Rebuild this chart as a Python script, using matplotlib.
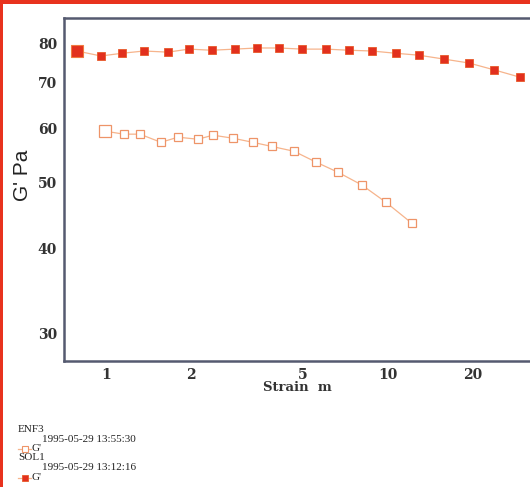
import matplotlib
matplotlib.use("Agg")
import matplotlib.pyplot as plt
from matplotlib.lines import Line2D
from matplotlib.patches import Rectangle
from matplotlib.ticker import FixedLocator, NullLocator

# SOL1 (filled squares)
sol_strain = [0.789, 0.960, 1.139, 1.364, 1.659, 1.969, 2.376, 2.867, 3.432, 4.107,
              4.955, 6.028, 7.272, 8.776, 10.67, 12.88, 15.80, 19.38, 23.76, 29.38]
sol_g = [77.9, 76.6, 77.3, 77.9, 77.6, 78.4, 78.1, 78.4, 78.7, 78.7,
         78.4, 78.4, 78.1, 77.9, 77.3, 76.8, 75.8, 74.8, 73.1, 71.3]

# ENF3 (open squares)
enf_strain = [0.992, 1.158, 1.320, 1.567, 1.800, 2.120, 2.396, 2.821, 3.321, 3.879,
              4.642, 5.556, 6.646, 8.088, 9.838, 12.16]
enf_g = [59.4, 58.8, 58.8, 57.2, 58.2, 57.8, 58.6, 58.0, 57.2, 56.4,
         55.5, 53.5, 51.7, 49.5, 46.7, 43.5]

xticks = [1, 2, 5, 10, 20]
yticks = [30, 40, 50, 60, 70, 80]

legend_rows = [("ENF3", "1995-05-29 13:55:30", "G'"),
               ("SOL1", "1995-05-29 13:12:16", "G'")]

line_col = "#f6b48c"
red = "#e2301e"
open_col = "#ee9468"
spine_col = "#555a70"

W, H = 530, 487
fig = plt.figure(figsize=(W / 100, H / 100), dpi=100)
ax = fig.add_axes([64 / W, 1 - 361 / H, 1 - 64 / W, (361 - 18) / H])

ax.plot(sol_strain, sol_g, color=line_col, lw=0.9, marker="s", ms=6,
        mfc=red, mec="#e85a2a", mew=0.6, zorder=3)
ax.plot(sol_strain[:1], sol_g[:1], ls="none", marker="s", ms=8.5,
        mfc=red, mec="#f07a40", mew=0.8, zorder=4)
ax.plot(enf_strain, enf_g, color=line_col, lw=0.9, marker="s", ms=6,
        mfc="white", mec=open_col, mew=0.9, zorder=3)
ax.plot(enf_strain[:1], enf_g[:1], ls="none", marker="s", ms=8,
        mfc="white", mec=open_col, mew=0.9, zorder=4)

ax.set_xscale("log")
ax.set_yscale("log")
ax.set_xlim(0.71, 31.9)
ax.set_ylim(27.3, 87.1)

ax.xaxis.set_major_locator(FixedLocator(xticks))
ax.xaxis.set_minor_locator(NullLocator())
ax.yaxis.set_major_locator(FixedLocator(yticks))
ax.yaxis.set_minor_locator(NullLocator())
ax.set_xticklabels([str(t) for t in xticks])
ax.set_yticklabels([str(t) for t in yticks])
ax.tick_params(length=0, pad=5, labelsize=10, labelcolor="#333333")
for lab in ax.get_xticklabels() + ax.get_yticklabels():
    lab.set_fontfamily("DejaVu Serif")
    lab.set_fontweight("bold")

for side in ["left", "bottom", "top"]:
    ax.spines[side].set_color(spine_col)
    ax.spines[side].set_linewidth(1.8)
ax.spines["right"].set_visible(False)

ax.set_xlabel("Strain  m", fontfamily="DejaVu Serif", fontweight="bold",
              fontsize=9.5, color="#333333", labelpad=-1)
fig.text(22 / W, 1 - 175 / H, "G' Pa", rotation=90, ha="center", va="center",
         fontfamily="Liberation Sans", fontsize=15, color="#222222")

# legend block
y0 = 429
fs = 8
for i, (name, stamp, var) in enumerate(legend_rows):
    yb = y0 + i * 29
    fig.text(18 / W, 1 - yb / H, name, fontfamily="Liberation Serif", fontsize=fs,
             va="center", color="#222222")
    fig.text(42 / W, 1 - (yb + 10) / H, stamp, fontfamily="Liberation Serif",
             fontsize=fs, va="center", color="#222222")
    yl = 1 - (yb + 19.5) / H
    if i == 0:
        mk = dict(mfc="white", mec=open_col, mew=0.8)
    else:
        mk = dict(mfc=red, mec="#e85a2a", mew=0.6)
    fig.add_artist(Line2D([18 / W, 31 / W], [yl, yl], color=line_col, lw=0.9,
                          transform=fig.transFigure))
    fig.add_artist(Line2D([24.5 / W], [yl], marker="s", ms=5, ls="none",
                          transform=fig.transFigure, **mk))
    fig.text(31 / W, yl, var, fontfamily="Liberation Serif", fontsize=fs,
             va="center", color="#222222")

# red frame on top and left
frame = "#e8321e"
fig.add_artist(Rectangle((0, 0), 3 / W, 1, transform=fig.transFigure,
                         color=frame, lw=0))
fig.add_artist(Rectangle((0, 1 - 4 / H), 1, 4 / H, transform=fig.transFigure,
                         color=frame, lw=0))

fig.savefig("out.png", dpi=100)
